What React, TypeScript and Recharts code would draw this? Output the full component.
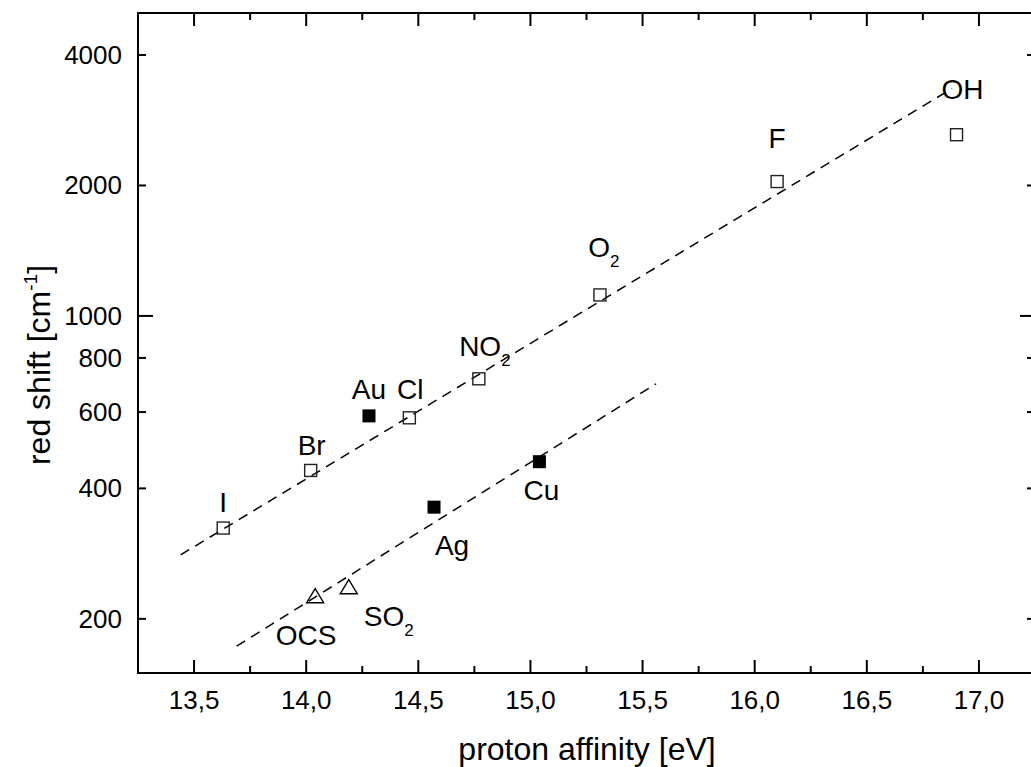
import { ScatterChart, Scatter, XAxis, YAxis } from 'recharts';

// open squares: ligands on the upper line
const ligandNames = ['I', 'Br', 'Cl', 'NO2', 'O2', 'F', 'OH'];
const ligandAffinity = [13.63, 14.02, 14.46, 14.77, 15.31, 16.1, 16.9];
const ligandShift = [324, 440, 582, 716, 1118, 2042, 2619];

// filled squares: metals
const metalNames = ['Au', 'Ag', 'Cu'];
const metalAffinity = [14.28, 14.57, 15.04];
const metalShift = [588, 362, 461];

// open triangles: molecules
const moleculeNames = ['OCS', 'SO2'];
const moleculeAffinity = [14.04, 14.19];
const moleculeShift = [225, 236];

// dashed guide lines (end points)
const upperFitX = [13.44, 16.88];
const upperFitY = [281, 3348];
const lowerFitX = [13.69, 15.56];
const lowerFitY = [173, 697];

const xDomain = [13.25, 17.25];
const yDomain = [150, 5000];
const xTicks = [13.5, 13.75, 14, 14.25, 14.5, 14.75, 15, 15.25, 15.5, 15.75, 16, 16.25, 16.5, 16.75, 17];
const yTicks = [200, 400, 600, 800, 1000, 2000, 4000];

const FONT = '"Liberation Sans", Arial, sans-serif';

const toPoints = (names: string[], xs: number[], ys: number[]) =>
  xs.map((x, i) => ({ name: names[i], x, y: ys[i] }));
const toLine = (xs: number[], ys: number[]) => xs.map((x, i) => ({ x, y: ys[i] }));

// label placement relative to marker: [dx of text centre, dy of baseline]
const labelOffset: Record<string, [number, number]> = {
  I: [0, -16],
  Br: [1, -15],
  Cl: [1, -19],
  NO2: [6, -23],
  O2: [4, -38],
  F: [0, -34],
  OH: [6, -36],
  Au: [0, -17],
  Ag: [18, 48],
  Cu: [2, 38],
  OCS: [-9, 48],
  SO2: [40, 38],
};

function PointLabel({ cx, cy, name }: { cx: number; cy: number; name: string }) {
  const [dx, dy] = labelOffset[name] || [0, -16];
  const m = name.match(/^(.*?)(\d)$/);
  return (
    <text x={cx + dx} y={cy + dy} textAnchor="middle" fontSize={28} fontFamily={FONT} fill="#000">
      {m ? (
        <>
          {m[1]}
          <tspan fontSize={17} dy={10}>{m[2]}</tspan>
        </>
      ) : (
        name
      )}
    </text>
  );
}

const OpenSquare = (p: any) => (
  <g>
    <rect x={p.cx - 6} y={p.cy - 6} width={12} height={12} fill="none" stroke="#222" strokeWidth={1.4} />
    <PointLabel cx={p.cx} cy={p.cy} name={p.payload.name} />
  </g>
);

const FilledSquare = (p: any) => (
  <g>
    <rect x={p.cx - 6.5} y={p.cy - 6.5} width={13} height={13} fill="#000" />
    <PointLabel cx={p.cx} cy={p.cy} name={p.payload.name} />
  </g>
);

const OpenTriangle = (p: any) => (
  <g>
    <path
      d={`M${p.cx},${p.cy - 8} L${p.cx + 8.5},${p.cy + 6} L${p.cx - 8.5},${p.cy + 6} Z`}
      fill="none"
      stroke="#000"
      strokeWidth={1.4}
    />
    <PointLabel cx={p.cx} cy={p.cy} name={p.payload.name} />
  </g>
);

const NoMarker = () => <g />;

const isMajorX = (v: number) => Math.abs(v * 2 - Math.round(v * 2)) < 1e-6;

// inward tick marks, placed on the frame through the chart's scales
const xTickLen = (v: number) => (isMajorX(v) ? 13 : 7);
const yTickLen = (v: number) => (v === 1000 ? 15 : 8);

const BottomMark = (p: any) => (
  <path d={`M${p.cx},${p.cy}L${p.cx},${p.cy - xTickLen(p.payload.x)}`} stroke="#000" strokeWidth={2} fill="none" />
);
const TopMark = (p: any) => (
  <path d={`M${p.cx},${p.cy}L${p.cx},${p.cy + xTickLen(p.payload.x)}`} stroke="#000" strokeWidth={2} fill="none" />
);
const LeftMark = (p: any) => (
  <path d={`M${p.cx},${p.cy}L${p.cx + yTickLen(p.payload.y)},${p.cy}`} stroke="#000" strokeWidth={2} fill="none" />
);
const RightMark = (p: any) => (
  <path d={`M${p.cx},${p.cy}L${p.cx - yTickLen(p.payload.y)},${p.cy}`} stroke="#000" strokeWidth={2} fill="none" />
);

const BottomLabel = (props: any) => {
  const { x, y, payload } = props;
  const v = payload.value;
  if (!isMajorX(v)) return <g />;
  return (
    <text x={x} y={y + 36} textAnchor="middle" fontSize={26} fontFamily={FONT} fill="#000">
      {v.toFixed(1).replace('.', ',')}
    </text>
  );
};

const LeftLabel = (props: any) => {
  const { x, y, payload } = props;
  return (
    <text x={x - 16} y={y + 9} textAnchor="end" fontSize={26} fontFamily={FONT} fill="#000">
      {payload.value}
    </text>
  );
};

const XTitle = () => (
  <text x={587} y={760} textAnchor="middle" fontSize={32} fontFamily={FONT} fill="#000">
    proton affinity [eV]
  </text>
);

const YTitle = () => (
  <text x={0} y={0} transform="translate(50, 365) rotate(-90)" textAnchor="middle" fontSize={32} fontFamily={FONT} fill="#000">
    red shift [cm
    <tspan fontSize={19} dy={-13}>-1</tspan>
    <tspan dy={13}>]</tspan>
  </text>
);

const axisLine = { stroke: '#000', strokeWidth: 2, strokeLinecap: 'square' as const };

export default function App() {
  const xMarksBottom = xTicks.map((x) => ({ x, y: yDomain[0] }));
  const xMarksTop = xTicks.map((x) => ({ x, y: yDomain[1] }));
  const yMarksLeft = yTicks.map((y) => ({ x: xDomain[0], y }));
  const yMarksRight = yTicks.map((y) => ({ x: xDomain[1], y }));

  return (
    <div style={{ position: 'absolute', left: 0, top: 0, width: 1031, height: 767, overflow: 'hidden', background: '#fff' }}>
      <ScatterChart width={1040} height={767} margin={{ top: 12, right: 4, bottom: 0, left: 0 }}>
        <XAxis
          xAxisId="bottom"
          dataKey="x"
          type="number"
          domain={xDomain}
          allowDataOverflow
          ticks={xTicks}
          interval={0}
          height={94}
          tickSize={0}
          tickMargin={0}
          tickLine={false}
          axisLine={axisLine}
          tick={<BottomLabel />}
          label={<XTitle />}
        />
        <XAxis
          xAxisId="top"
          orientation="top"
          dataKey="x"
          type="number"
          domain={xDomain}
          allowDataOverflow
          height={1}
          tickLine={false}
          tick={false}
          axisLine={axisLine}
        />
        <YAxis
          yAxisId="left"
          dataKey="y"
          type="number"
          scale="log"
          domain={yDomain}
          allowDataOverflow
          ticks={yTicks}
          interval={0}
          width={138}
          tickSize={0}
          tickMargin={0}
          tickLine={false}
          axisLine={axisLine}
          tick={<LeftLabel />}
          label={<YTitle />}
        />
        <YAxis
          yAxisId="right"
          orientation="right"
          dataKey="y"
          type="number"
          scale="log"
          domain={yDomain}
          allowDataOverflow
          width={1}
          tickLine={false}
          tick={false}
          axisLine={axisLine}
        />
        <Scatter xAxisId="bottom" yAxisId="left" data={xMarksBottom} shape={<BottomMark />} isAnimationActive={false} />
        <Scatter xAxisId="bottom" yAxisId="left" data={xMarksTop} shape={<TopMark />} isAnimationActive={false} />
        <Scatter xAxisId="bottom" yAxisId="left" data={yMarksLeft} shape={<LeftMark />} isAnimationActive={false} />
        <Scatter xAxisId="bottom" yAxisId="left" data={yMarksRight} shape={<RightMark />} isAnimationActive={false} />
        <Scatter
          xAxisId="bottom"
          yAxisId="left"
          data={toLine(upperFitX, upperFitY)}
          line={{ stroke: '#000', strokeWidth: 1.5, strokeDasharray: '10 7' }}
          shape={<NoMarker />}
          isAnimationActive={false}
        />
        <Scatter
          xAxisId="bottom"
          yAxisId="left"
          data={toLine(lowerFitX, lowerFitY)}
          line={{ stroke: '#000', strokeWidth: 1.5, strokeDasharray: '10 7' }}
          shape={<NoMarker />}
          isAnimationActive={false}
        />
        <Scatter
          xAxisId="bottom"
          yAxisId="left"
          data={toPoints(ligandNames, ligandAffinity, ligandShift)}
          shape={<OpenSquare />}
          isAnimationActive={false}
        />
        <Scatter
          xAxisId="bottom"
          yAxisId="left"
          data={toPoints(metalNames, metalAffinity, metalShift)}
          shape={<FilledSquare />}
          isAnimationActive={false}
        />
        <Scatter
          xAxisId="bottom"
          yAxisId="left"
          data={toPoints(moleculeNames, moleculeAffinity, moleculeShift)}
          shape={<OpenTriangle />}
          isAnimationActive={false}
        />
        <Scatter
          xAxisId="top"
          yAxisId="right"
          data={toPoints(moleculeNames, moleculeAffinity, moleculeShift)}
          shape={<NoMarker />}
          isAnimationActive={false}
        />
      </ScatterChart>
    </div>
  );
}
